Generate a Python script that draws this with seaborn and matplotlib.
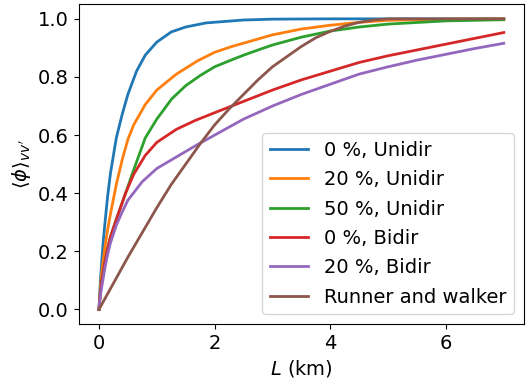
import matplotlib
matplotlib.use("Agg")
import matplotlib.pyplot as plt
import seaborn as sns
import pandas as pd

labels = ["0 %, Unidir", "20 %, Unidir", "50 %, Unidir", "0 %, Bidir", "20 %, Bidir", "Runner and walker"]

L_uni0 = [0, 0.025, 0.05, 0.075, 0.1, 0.15, 0.2, 0.3, 0.4, 0.5, 0.65, 0.8, 1.0, 1.25, 1.5, 1.85, 2.5, 3, 4, 5, 6, 7]
v_uni0 = [0, 0.10, 0.17, 0.235, 0.29, 0.39, 0.47, 0.59, 0.67, 0.74, 0.82, 0.875, 0.92, 0.955, 0.972, 0.986, 0.996, 0.999, 1, 1, 1, 1]

L_uni20 = [0, 0.025, 0.05, 0.1, 0.15, 0.2, 0.3, 0.4, 0.5, 0.6, 0.8, 1.0, 1.34, 1.7, 2.0, 2.3, 2.6, 3, 3.5, 4, 4.5, 5, 6, 7]
v_uni20 = [0, 0.075, 0.13, 0.21, 0.275, 0.33, 0.43, 0.514, 0.585, 0.635, 0.705, 0.755, 0.81, 0.855, 0.885, 0.905, 0.922, 0.945, 0.965, 0.978, 0.988, 0.995, 0.999, 1.0]

L_uni50 = [0, 0.025, 0.05, 0.1, 0.15, 0.2, 0.3, 0.46, 0.6, 0.8, 1.0, 1.26, 1.5, 1.75, 2.0, 2.27, 2.5, 2.81, 3, 3.5, 4, 4.5, 5, 6, 7]
v_uni50 = [0, 0.06, 0.10, 0.16, 0.21, 0.25, 0.31, 0.40, 0.48, 0.59, 0.655, 0.725, 0.77, 0.805, 0.835, 0.857, 0.875, 0.897, 0.91, 0.937, 0.958, 0.972, 0.982, 0.993, 0.997]

L_bi0 = [0, 0.025, 0.05, 0.1, 0.15, 0.2, 0.3, 0.46, 0.6, 0.8, 1.0, 1.34, 1.66, 2.0, 2.5, 3.0, 3.5, 4.0, 4.5, 5.0, 5.5, 6.0, 6.5, 7.0]
v_bi0 = [0, 0.06, 0.10, 0.16, 0.21, 0.25, 0.31, 0.40, 0.465, 0.53, 0.575, 0.62, 0.65, 0.677, 0.716, 0.755, 0.79, 0.82, 0.85, 0.873, 0.893, 0.913, 0.933, 0.953]

L_bi20 = [0, 0.025, 0.05, 0.1, 0.15, 0.2, 0.3, 0.4, 0.5, 0.75, 1.0, 1.34, 1.7, 2.0, 2.5, 3.0, 3.5, 4.0, 4.5, 5.0, 5.5, 6.0, 6.5, 7.0]
v_bi20 = [0, 0.05, 0.08, 0.14, 0.19, 0.23, 0.29, 0.335, 0.376, 0.44, 0.485, 0.525, 0.567, 0.60, 0.655, 0.70, 0.74, 0.775, 0.81, 0.835, 0.858, 0.878, 0.898, 0.916]

L_rw = [0, 0.25, 0.5, 0.75, 1.0, 1.25, 1.5, 1.75, 2.0, 2.25, 2.5, 2.75, 3.0, 3.25, 3.5, 3.75, 4.0, 4.25, 4.5, 4.75, 5, 6, 7]
v_rw = [0, 0.09, 0.18, 0.265, 0.35, 0.43, 0.50, 0.57, 0.635, 0.69, 0.74, 0.79, 0.835, 0.87, 0.905, 0.935, 0.957, 0.975, 0.988, 0.996, 1.0, 1.0, 1.0]

series = [(L_uni0, v_uni0), (L_uni20, v_uni20), (L_uni50, v_uni50),
          (L_bi0, v_bi0), (L_bi20, v_bi20), (L_rw, v_rw)]

frames = []
for lab, (xs, ys) in zip(labels, series):
    frames.append(pd.DataFrame({"L": xs, "phi": ys, "series": lab}))
df = pd.concat(frames, ignore_index=True)

plt.rcParams["font.size"] = 14
fig = plt.figure(figsize=(5.29, 3.86), dpi=100)
ax = fig.add_axes([0.1488, 0.1606, 0.8418, 0.8282])
sns.lineplot(data=df, x="L", y="phi", hue="series", hue_order=labels,
             palette=sns.color_palette("tab10", 6), linewidth=2, ax=ax,
             sort=True, estimator=None)
ax.set_xlim(-0.35, 7.35)
ax.set_ylim(-0.05, 1.05)
ax.set_xticks([0, 2, 4, 6])
ax.set_yticks([0.0, 0.2, 0.4, 0.6, 0.8, 1.0])
ax.set_xlabel("$L$ (km)")
ax.set_ylabel(r"$\langle \phi \rangle_{vv'}$")
ax.legend(loc="lower right", title=None, labelspacing=0.53)
fig.savefig("out.png", dpi=100)
